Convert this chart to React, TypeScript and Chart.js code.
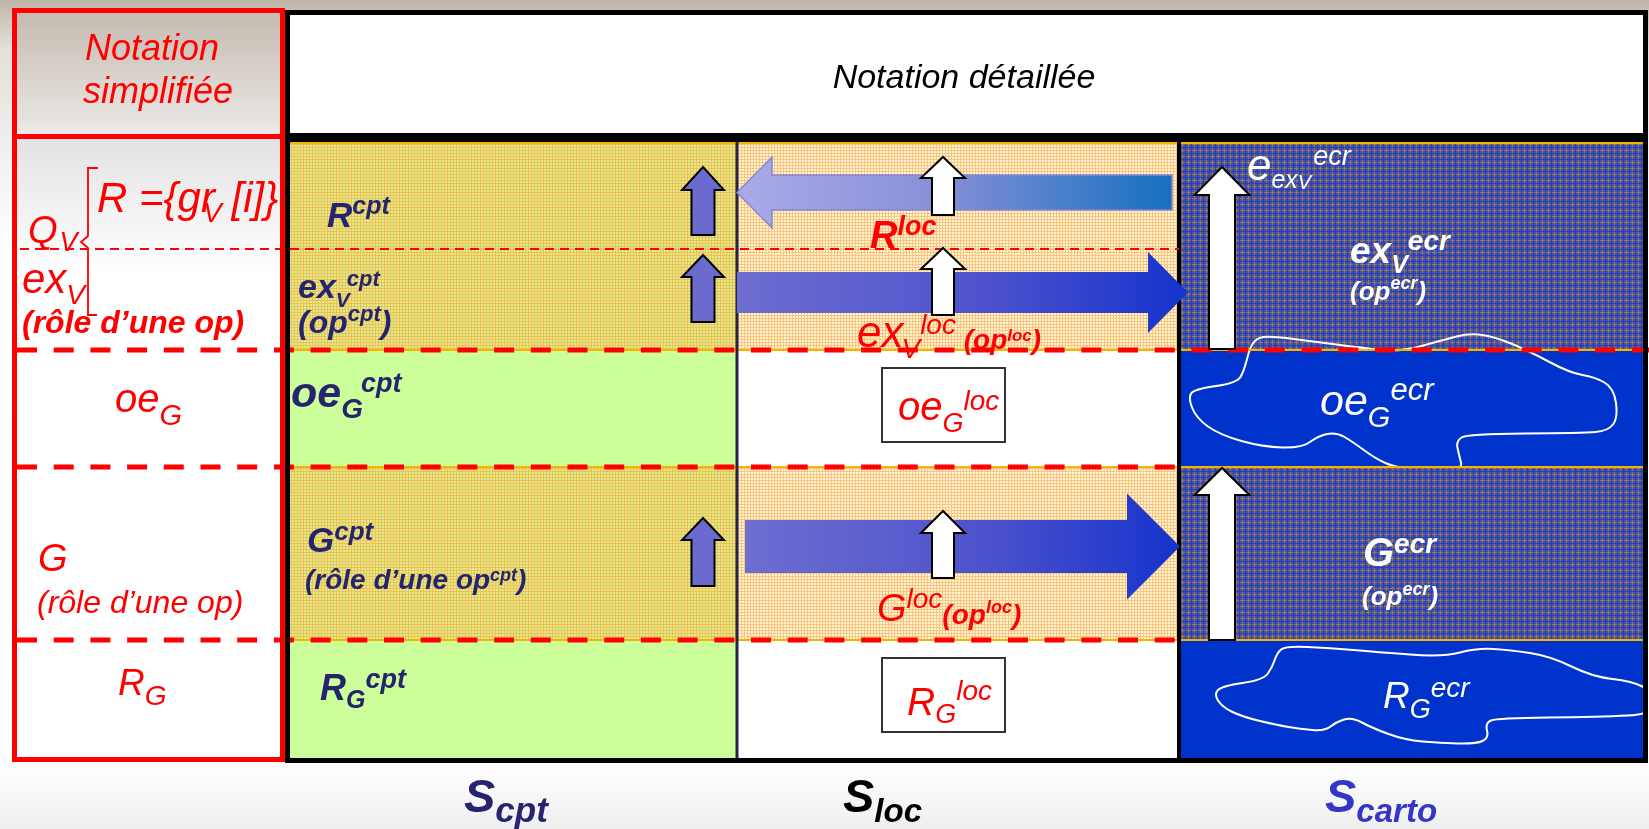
import React, { useEffect, useRef } from "react";
import { Chart, registerables } from "chart.js";

Chart.register(...registerables);

const W = 1649;
const H = 829;
const FONT = '"Liberation Sans", Arial, Helvetica, sans-serif';
const RED = "#ff0000";
const NAVY = "#25256f";
const WHITE = "#ffffff";

// ---- diagram grid (diagram units) ----
const panelEdgesX = [12, 285];
const panelEdgesY = [8, 762];
const tableEdgesX = [285, 1648];
const tableEdgesY = [10, 763];
const headerEdgesY = [14, 134];
const columnNames = ["cpt", "loc", "carto"];
const colEdges = [289, 737, 1179, 1644];
const rowNames = ["R", "exV", "oeG", "G", "RG"];
const rowEdges = [142, 249, 350, 467, 640, 758];
const texturedRows = [true, true, false, true, false];
const plainFills = ["#ccff99", "#ffffff", "#0033cc"];

// up arrows: [centre x, tip, neck, tail]
const smallUpArrows = [
  [703, 167, 190, 235],
  [703, 255, 277, 322],
  [703, 518, 540, 586],
];
const locUpArrows = [
  [943, 157, 178, 215],
  [943, 248, 269, 315],
  [943, 511, 533, 578],
];
const cartoUpArrows = [
  [1222, 167, 195, 349],
  [1222, 468, 495, 640],
];
// flow arrows: [tail x, neck x, tip x, centre y, shaft half, head half]
const leftFlowArrow = [1172, 772, 737, 192.5, 17.5, 35.5];
const rightFlowArrows = [
  [737, 1148, 1188, 292.5, 20.5, 40.5],
  [745, 1127, 1180, 546.5, 26.5, 53],
];
const locBoxes = [
  [882, 368, 1005, 442],
  [882, 658, 1005, 732],
];
const blobOeG = [
  [1188, 397], [1195, 389], [1237, 383], [1244, 371], [1250, 347], [1257, 338], [1270, 336],
  [1310, 341], [1363, 348], [1400, 352], [1443, 340], [1470, 333], [1495, 337], [1527, 350],
  [1570, 373], [1595, 377], [1614, 388], [1618, 418], [1608, 431], [1583, 433], [1467, 434],
  [1456, 441], [1459, 455], [1463, 470], [1430, 470], [1397, 468], [1376, 459], [1353, 442],
  [1336, 432], [1318, 436], [1302, 448], [1263, 447], [1220, 435], [1196, 418],
];
const blobRG = [
  [1277, 653], [1285, 646], [1330, 648], [1377, 652], [1443, 657], [1477, 648], [1510, 650],
  [1550, 656], [1593, 677], [1632, 681], [1655, 693], [1655, 714], [1600, 717], [1497, 718],
  [1485, 723], [1489, 738], [1476, 744], [1440, 743], [1405, 740], [1372, 728], [1352, 717],
  [1336, 722], [1325, 731], [1300, 729], [1277, 725], [1243, 717], [1222, 707], [1214, 694],
  [1222, 686], [1263, 680], [1272, 668],
];

// ---- texts ----
type Run = { t: string; s: number; b?: boolean; dy?: number; dx?: number };
type Label = { x: number; y: number; c: string; runs: Run[]; center?: boolean };

const headerTitle = "Notation détaillée";
const panelTitle = ["Notation", "simplifiée"];

const labels: Label[] = [
  // header texts
  { x: 964, y: 88, c: "#000000", center: true, runs: [{ t: headerTitle, s: 34 }] },
  { x: 152, y: 60, c: RED, center: true, runs: [{ t: panelTitle[0], s: 36 }] },
  { x: 158, y: 103, c: RED, center: true, runs: [{ t: panelTitle[1], s: 36 }] },
  // simplified notation
  { x: 97, y: 212, c: RED, runs: [{ t: "R ={gr", s: 42 }, { t: "V", s: 28, dy: 10, dx: -12 }, { t: "[i]}", s: 42, dx: 10 }] },
  { x: 28, y: 243, c: RED, runs: [{ t: "Q", s: 38 }, { t: "V", s: 27, dy: 8, dx: 2 }] },
  { x: 22, y: 293, c: RED, runs: [{ t: "ex", s: 42 }, { t: "V", s: 28, dy: 11 }] },
  { x: 22, y: 333, c: RED, runs: [{ t: "(rôle d’une op)", s: 32, b: true }] },
  { x: 115, y: 412, c: RED, runs: [{ t: "oe", s: 40 }, { t: "G", s: 29, dy: 13 }] },
  { x: 38, y: 571, c: RED, runs: [{ t: "G", s: 38 }] },
  { x: 37, y: 613, c: RED, runs: [{ t: "(rôle d’une op)", s: 32 }] },
  { x: 118, y: 695, c: RED, runs: [{ t: "R", s: 37 }, { t: "G", s: 28, dy: 10 }] },
  // S_cpt column
  { x: 327, y: 227, c: NAVY, runs: [{ t: "R", s: 35, b: true }, { t: "cpt", s: 25, b: true, dy: -13 }] },
  { x: 298, y: 298, c: NAVY, runs: [{ t: "ex", s: 34, b: true }, { t: "V", s: 21, b: true, dy: 9 }, { t: "cpt", s: 22, b: true, dy: -12, dx: -3 }] },
  { x: 298, y: 333, c: NAVY, runs: [{ t: "(op", s: 32, b: true }, { t: "cpt", s: 22, b: true, dy: -12 }, { t: ")", s: 32, b: true }] },
  { x: 291, y: 407, c: NAVY, runs: [{ t: "oe", s: 43, b: true }, { t: "G", s: 28, b: true, dy: 11 }, { t: "cpt", s: 27, b: true, dy: -15, dx: -2 }] },
  { x: 307, y: 552, c: NAVY, runs: [{ t: "G", s: 35, b: true }, { t: "cpt", s: 26, b: true, dy: -12 }] },
  { x: 305, y: 589, c: NAVY, runs: [{ t: "(rôle d’une op", s: 28, b: true }, { t: "cpt", s: 18, b: true, dy: -8 }, { t: ")", s: 28, b: true }] },
  { x: 320, y: 700, c: NAVY, runs: [{ t: "R", s: 36, b: true }, { t: "G", s: 25, b: true, dy: 8 }, { t: "cpt", s: 27, b: true, dy: -12 }] },
  // S_loc column
  { x: 870, y: 248, c: RED, runs: [{ t: "R", s: 38, b: true }, { t: "loc", s: 27, b: true, dy: -13 }] },
  { x: 857, y: 347, c: RED, runs: [{ t: "ex", s: 44 }, { t: "V", s: 28, dy: 11, dx: -2 }, { t: "loc", s: 28, dy: -13 }, { t: " (op", s: 28, b: true, dy: 2 }, { t: "loc", s: 17, b: true, dy: -6 }, { t: ")", s: 28, b: true, dy: 2 }] },
  { x: 898, y: 420, c: RED, runs: [{ t: "oe", s: 40 }, { t: "G", s: 27, dy: 12 }, { t: "loc", s: 28, dy: -10 }] },
  { x: 877, y: 621, c: RED, runs: [{ t: "G", s: 38 }, { t: "loc", s: 28, dy: -13 }, { t: "(op", s: 28, b: true, dy: 3 }, { t: "loc", s: 18, b: true, dy: -8 }, { t: ")", s: 28, b: true, dy: 3 }] },
  { x: 907, y: 715, c: RED, runs: [{ t: "R", s: 39 }, { t: "G", s: 27, dy: 8 }, { t: "loc", s: 28, dy: -15 }] },
  // S_carto column
  { x: 1247, y: 180, c: WHITE, runs: [{ t: "e", s: 44 }, { t: "ex", s: 25, dy: 8 }, { t: "V", s: 20, dy: 9 }, { t: "ecr", s: 27, dy: -15, dx: 2 }] },
  { x: 1350, y: 263, c: WHITE, runs: [{ t: "ex", s: 37, b: true }, { t: "V", s: 25, b: true, dy: 10 }, { t: "ecr", s: 28, b: true, dy: -13 }] },
  { x: 1350, y: 300, c: WHITE, runs: [{ t: "(op", s: 26, b: true }, { t: "ecr", s: 18, b: true, dy: -11 }, { t: ")", s: 26, b: true }] },
  { x: 1320, y: 415, c: WHITE, runs: [{ t: "oe", s: 43 }, { t: "G", s: 29, dy: 12 }, { t: "ecr", s: 31, dy: -15 }] },
  { x: 1363, y: 566, c: WHITE, runs: [{ t: "G", s: 40, b: true }, { t: "ecr", s: 28, b: true, dy: -13 }] },
  { x: 1362, y: 605, c: WHITE, runs: [{ t: "(op", s: 26, b: true }, { t: "ecr", s: 18, b: true, dy: -10 }, { t: ")", s: 26, b: true }] },
  { x: 1383, y: 708, c: WHITE, runs: [{ t: "R", s: 37 }, { t: "G", s: 27, dy: 10 }, { t: "ecr", s: 28, dy: -11 }] },
  // space labels
  { x: 464, y: 812, c: NAVY, runs: [{ t: "S", s: 47, b: true }, { t: "cpt", s: 35, b: true, dy: 10 }] },
  { x: 843, y: 812, c: "#000000", runs: [{ t: "S", s: 47, b: true }, { t: "loc", s: 33, b: true, dy: 10 }] },
  { x: 1325, y: 812, c: "#3535c8", runs: [{ t: "S", s: 47, b: true }, { t: "carto", s: 33, b: true, dy: 10 }] },
];

function makeTile(base: string, a: string, aPos: number[], b: string | null, bPos: number[]) {
  const c = document.createElement("canvas");
  c.width = 6;
  c.height = 6;
  const g = c.getContext("2d")!;
  g.fillStyle = base;
  g.fillRect(0, 0, 6, 6);
  g.fillStyle = a;
  aPos.forEach((p) => {
    g.fillRect(p, 0, 1, 6);
    g.fillRect(0, p, 6, 1);
  });
  if (b) {
    g.fillStyle = b;
    bPos.forEach((p) => {
      g.fillRect(p, 0, 1, 6);
      g.fillRect(0, p, 6, 1);
    });
  }
  return c;
}

const diagramPlugin = {
  id: "diagram",
  beforeDraw(chart: any) {
    const ctx: CanvasRenderingContext2D = chart.ctx;
    const xs = chart.scales.x;
    const ys = chart.scales.y;
    const X = (v: number) => xs.getPixelForValue(v);
    const Y = (v: number) => ys.getPixelForValue(v);
    const k = X(1) - X(0);
    const rect = (x0: number, y0: number, x1: number, y1: number) =>
      ctx.rect(X(x0), Y(y0), X(x1) - X(x0), Y(y1) - Y(y0));
    const fillR = (x0: number, y0: number, x1: number, y1: number, f: any) => {
      ctx.beginPath();
      rect(x0, y0, x1, y1);
      ctx.fillStyle = f;
      ctx.fill();
    };
    const line = (x0: number, y0: number, x1: number, y1: number, c: string, w: number, dash: number[] = []) => {
      ctx.save();
      ctx.beginPath();
      ctx.setLineDash(dash.map((d) => d * k));
      ctx.moveTo(X(x0), Y(y0));
      ctx.lineTo(X(x1), Y(y1));
      ctx.strokeStyle = c;
      ctx.lineWidth = w * k;
      ctx.stroke();
      ctx.restore();
    };
    const poly = (pts: number[][]) => {
      ctx.beginPath();
      pts.forEach((p, i) => (i ? ctx.lineTo(X(p[0]), Y(p[1])) : ctx.moveTo(X(p[0]), Y(p[1]))));
      ctx.closePath();
    };

    ctx.save();
    // page background
    const bg = ctx.createLinearGradient(0, Y(0), 0, Y(H));
    bg.addColorStop(0, "#bdb3a6");
    bg.addColorStop(0.015, "#c9c1b6");
    bg.addColorStop(0.06, "#e4e0db");
    bg.addColorStop(0.3, "#ffffff");
    bg.addColorStop(0.93, "#fdfdfd");
    bg.addColorStop(1, "#efefef");
    fillR(0, 0, W, H, bg);

    // left panel backgrounds
    const ph = ctx.createLinearGradient(0, Y(headerEdgesY[0]), 0, Y(headerEdgesY[1]));
    ph.addColorStop(0, "#c5bbb0");
    ph.addColorStop(1, "#ebe9e6");
    fillR(panelEdgesX[0] + 5, headerEdgesY[0], panelEdgesX[1] - 4, headerEdgesY[1] + 1, ph);
    const pb = ctx.createLinearGradient(0, Y(139), 0, Y(275));
    pb.addColorStop(0, "#e3e3e3");
    pb.addColorStop(1, "#ffffff");
    fillR(panelEdgesX[0] + 5, 139, panelEdgesX[1] - 4, rowEdges[5], pb);

    // table header
    fillR(tableEdgesX[0] + 5, headerEdgesY[0], tableEdgesX[1] - 4, headerEdgesY[1], "#ffffff");

    // textures
    const tiles = [
      makeTile("#d8ee94", "#f2c050", [0, 3], null, []),
      makeTile("#fff3da", "#f9c67c", [0, 3], null, []),
      makeTile("#4150a6", "#9c7647", [0], "#1f3fcc", [3]),
    ].map((t) => ctx.createPattern(t, "repeat"));

    // cells
    columnNames.forEach((_, c) => {
      rowNames.forEach((_r, r) => {
        fillR(colEdges[c], rowEdges[r], colEdges[c + 1], rowEdges[r + 1], texturedRows[r] ? tiles[c] : plainFills[c]);
      });
    });

    // blobs in carto cells
    const blob = (pts: number[][], clip: number[]) => {
      ctx.save();
      ctx.beginPath();
      rect(clip[0], clip[1], clip[2], clip[3]);
      ctx.clip();
      ctx.beginPath();
      const n = pts.length;
      const mid = (a: number[], b: number[]) => [(a[0] + b[0]) / 2, (a[1] + b[1]) / 2];
      const m0 = mid(pts[n - 1], pts[0]);
      ctx.moveTo(X(m0[0]), Y(m0[1]));
      for (let i = 0; i < n; i++) {
        const p = pts[i];
        const m = mid(p, pts[(i + 1) % n]);
        ctx.quadraticCurveTo(X(p[0]), Y(p[1]), X(m[0]), Y(m[1]));
      }
      ctx.closePath();
      ctx.strokeStyle = "#ffffff";
      ctx.lineWidth = 2 * k;
      ctx.stroke();
      ctx.restore();
    };
    blob(blobOeG, [colEdges[2] + 2, rowEdges[0], colEdges[3], rowEdges[3]]);
    blob(blobRG, [colEdges[2] + 2, rowEdges[4], colEdges[3], rowEdges[5]]);

    // orange band edges
    [rowEdges[0] + 1, rowEdges[2], rowEdges[3], rowEdges[4]].forEach((y) =>
      line(colEdges[0], y, colEdges[3], y, "#f4b400", 2)
    );

    // column separators
    line(colEdges[1], rowEdges[0], colEdges[1], rowEdges[5], "#24244a", 3);
    line(colEdges[2], rowEdges[0], colEdges[2], rowEdges[5], "#000000", 4);

    // red dashed row separators
    const dx0 = panelEdgesX[0] + 5;
    line(dx0 + 3, rowEdges[1], colEdges[2], rowEdges[1], RED, 2, [9, 6]);
    line(dx0, rowEdges[2], W, rowEdges[2], RED, 5, [20, 16.7]);
    line(dx0, rowEdges[3], colEdges[2], rowEdges[3], RED, 5, [20, 16.7]);
    line(dx0, rowEdges[4], colEdges[2], rowEdges[4], RED, 5, [20, 16.7]);

    // flow arrows
    {
      const [tail, neck, tip, cy, sh, hh] = leftFlowArrow;
      poly([[tip, cy], [neck, cy - hh], [neck, cy - sh], [tail, cy - sh], [tail, cy + sh], [neck, cy + sh], [neck, cy + hh]]);
      const g = ctx.createLinearGradient(X(tip), 0, X(tail), 0);
      g.addColorStop(0, "#aaaae8");
      g.addColorStop(0.45, "#8a90d8");
      g.addColorStop(1, "#1570bf");
      ctx.fillStyle = g;
      ctx.fill();
      ctx.strokeStyle = "#8585d8";
      ctx.lineWidth = 1.5 * k;
      ctx.stroke();
    }
    rightFlowArrows.forEach(([tail, neck, tip, cy, sh, hh]) => {
      poly([[tail, cy - sh], [neck, cy - sh], [neck, cy - hh], [tip, cy], [neck, cy + hh], [neck, cy + sh], [tail, cy + sh]]);
      const g = ctx.createLinearGradient(X(tail), 0, X(tip), 0);
      g.addColorStop(0, "#6e6ed0");
      g.addColorStop(0.55, "#4d52cc");
      g.addColorStop(1, "#1533cc");
      ctx.fillStyle = g;
      ctx.fill();
    });

    // up arrows
    const upArrow = (a: number[], hw: number, sw: number, fill: string) => {
      const [cx, tip, neck, tail] = a;
      poly([[cx - sw, tail], [cx - sw, neck], [cx - hw, neck], [cx, tip], [cx + hw, neck], [cx + sw, neck], [cx + sw, tail]]);
      ctx.fillStyle = fill;
      ctx.fill();
      ctx.strokeStyle = "#000000";
      ctx.lineWidth = 2 * k;
      ctx.lineJoin = "miter";
      ctx.stroke();
    };
    smallUpArrows.forEach((a) => upArrow(a, 21, 11.5, "#6b6bcf"));
    locUpArrows.forEach((a) => upArrow(a, 22, 11, "#ffffff"));
    cartoUpArrows.forEach((a) => upArrow(a, 27.5, 13, "#ffffff"));

    // boxes in S_loc
    locBoxes.forEach(([x0, y0, x1, y1]) => {
      fillR(x0, y0, x1, y1, "#ffffff");
      ctx.beginPath();
      rect(x0, y0, x1, y1);
      ctx.strokeStyle = "#333333";
      ctx.lineWidth = 2 * k;
      ctx.stroke();
    });

    // table border
    ctx.beginPath();
    rect(tableEdgesX[0] + 2.5, tableEdgesY[0] + 2.5, tableEdgesX[1] - 2.5, tableEdgesY[1] - 2.5);
    ctx.strokeStyle = "#000000";
    ctx.lineWidth = 5 * k;
    ctx.stroke();
    fillR(tableEdgesX[0], headerEdgesY[1] - 1, tableEdgesX[1], rowEdges[0], "#000000");

    // left panel border
    ctx.beginPath();
    rect(panelEdgesX[0] + 2.5, panelEdgesY[0] + 2.5, panelEdgesX[1] - 2.5, panelEdgesY[1] - 2.5);
    ctx.strokeStyle = RED;
    ctx.lineWidth = 5 * k;
    ctx.stroke();
    fillR(panelEdgesX[0] + 3, headerEdgesY[1], panelEdgesX[1] - 3, headerEdgesY[1] + 5, RED);

    // bracket of Q_V
    ctx.beginPath();
    [[98, 168], [88, 168], [88, 236], [81, 242], [88, 248], [88, 315], [97, 315]].forEach((p, i) =>
      i ? ctx.lineTo(X(p[0]), Y(p[1])) : ctx.moveTo(X(p[0]), Y(p[1]))
    );
    ctx.strokeStyle = RED;
    ctx.lineWidth = 1.8 * k;
    ctx.stroke();

    // texts
    ctx.textBaseline = "alphabetic";
    ctx.textAlign = "left";
    const font = (r: Run) => `italic ${r.b ? "bold " : ""}${r.s * k}px ${FONT}`;
    labels.forEach((lab) => {
      let x = lab.x;
      if (lab.center) {
        let w = 0;
        lab.runs.forEach((r) => {
          ctx.font = font(r);
          w += ctx.measureText(r.t).width / k + (r.dx || 0);
        });
        x -= w / 2;
      }
      ctx.fillStyle = lab.c;
      lab.runs.forEach((r) => {
        x += r.dx || 0;
        ctx.font = font(r);
        ctx.fillText(r.t, X(x), Y(lab.y + (r.dy || 0)));
        x += ctx.measureText(r.t).width / k;
      });
    });
    ctx.restore();
  },
};

export default function App() {
  const ref = useRef<HTMLCanvasElement>(null);
  useEffect(() => {
    const canvas = ref.current!;
    const chart = new Chart(canvas, {
      type: "scatter",
      data: { datasets: [] },
      options: {
        responsive: false,
        animation: false,
        events: [],
        layout: { padding: 0 },
        plugins: { legend: { display: false }, tooltip: { enabled: false } },
        scales: {
          x: { type: "linear", min: 0, max: W, display: false },
          y: { type: "linear", min: 0, max: H, reverse: true, display: false },
        },
      },
      plugins: [diagramPlugin],
    } as any);
    return () => chart.destroy();
  }, []);
  return (
    <div style={{ position: "fixed", left: 0, top: 0, width: W, height: H, overflow: "hidden", background: "#ffffff" }}>
      <canvas ref={ref} width={W} height={H} style={{ display: "block", width: W, height: H }} />
    </div>
  );
}
